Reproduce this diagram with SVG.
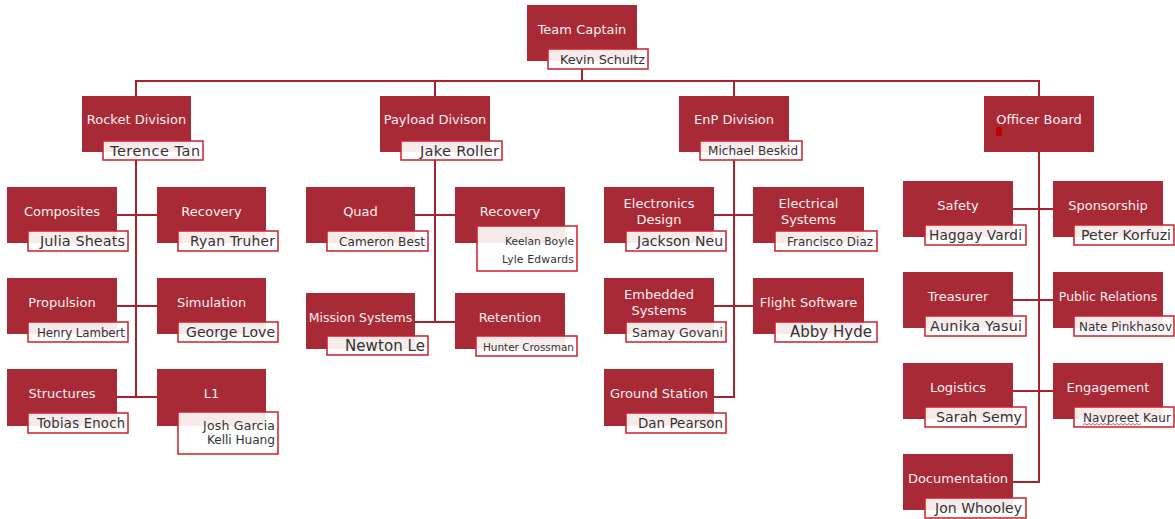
<svg xmlns="http://www.w3.org/2000/svg" width="1175" height="519" viewBox="0 0 1175 519">
<style>
.box{fill:#a92a37}
.nm{fill:#fff;fill-opacity:.9;stroke:#cc1f2a;stroke-width:1.5}
.lbl{font-family:"DejaVu Sans","Liberation Sans",sans-serif;font-size:13px;fill:#fbeff0;text-anchor:middle}
.pn{font-family:"DejaVu Sans","Liberation Sans",sans-serif;font-size:13px;fill:#333;text-anchor:end}
.ln{stroke:#a8222b;stroke-width:2;fill:none}
</style>
<rect width="1175" height="519" fill="#fff"/>
<g id="connectors" class="ln">
<path d="M136 96V81H1039V96M435 81V96M734 81V96M582 69V81"/>
<path d="M136 152V397M117 215H157M117 306H157M117 397H157"/>
<path d="M435 152V322M415 215H455M415 322H455"/>
<path d="M734 152V397H714M714 215H753M714 306H753"/>
<path d="M1039 152V482H1013M1013 209H1053M1013 300H1053M1013 391H1053"/>
</g>
<g id="captain"><rect class="box" x="527" y="5" width="110" height="56"/><text class="lbl" x="582" y="34">Team Captain</text><rect class="nm" x="548" y="49" width="100" height="20"/><text class="pn" x="645" y="64" style="font-size:12.8px" textLength="85">Kevin Schultz</text></g>
<g id="rocket"><rect class="box" x="82" y="96" width="109" height="56"/><text class="lbl" x="136.5" y="124">Rocket Division</text><rect class="nm" x="103" y="141" width="100" height="19"/><text class="pn" x="200" y="156" style="font-size:14.4px" textLength="90">Terence Tan</text></g>
<g id="payload"><rect class="box" x="380" y="96" width="110" height="56"/><text class="lbl" x="435" y="124">Payload Divison</text><rect class="nm" x="401" y="141" width="101" height="19"/><text class="pn" x="499" y="156" style="font-size:14.6px" textLength="79">Jake Roller</text></g>
<g id="enp"><rect class="box" x="679" y="96" width="110" height="56"/><text class="lbl" x="734" y="124">EnP Division</text><rect class="nm" x="700" y="141" width="102" height="19"/><text class="pn" x="798" y="155" style="font-size:12px" textLength="90">Michael Beskid</text></g>
<g id="officer"><rect class="box" x="984" y="96" width="110" height="56"/><text class="lbl" x="1039" y="124">Officer Board</text><rect x="996" y="127" width="6" height="9" fill="#c00000"/></g>
<g id="composites"><rect class="box" x="7" y="187" width="110" height="56"/><text class="lbl" x="62" y="216">Composites</text><rect class="nm" x="28" y="231" width="100" height="20"/><text class="pn" x="125" y="246" style="font-size:14.4px" textLength="85">Julia Sheats</text></g>
<g id="recovery-r"><rect class="box" x="157" y="187" width="109" height="56"/><text class="lbl" x="211.5" y="216">Recovery</text><rect class="nm" x="178" y="231" width="100" height="20"/><text class="pn" x="275" y="246" style="font-size:13.8px" textLength="85">Ryan Truher</text></g>
<g id="propulsion"><rect class="box" x="7" y="278" width="110" height="56"/><text class="lbl" x="62" y="307">Propulsion</text><rect class="nm" x="28" y="322" width="100" height="20"/><text class="pn" x="125" y="337" style="font-size:11.8px" textLength="88">Henry Lambert</text></g>
<g id="simulation"><rect class="box" x="157" y="278" width="109" height="56"/><text class="lbl" x="211.5" y="307">Simulation</text><rect class="nm" x="178" y="322" width="100" height="20"/><text class="pn" x="275" y="337" style="font-size:14px" textLength="89">George Love</text></g>
<g id="structures"><rect class="box" x="7" y="369" width="110" height="57"/><text class="lbl" x="62" y="398">Structures</text><rect class="nm" x="28" y="413" width="100" height="20"/><text class="pn" x="125" y="428" style="font-size:13.2px" textLength="88">Tobias Enoch</text></g>
<g id="l1"><rect class="box" x="157" y="369" width="109" height="57"/><text class="lbl" x="211.5" y="398">L1</text><rect class="nm" x="178" y="412" width="100" height="42"/><text class="pn" x="275" y="430" style="font-size:12.5px" textLength="72">Josh Garcia</text><text class="pn" x="275" y="444" style="font-size:12.2px" textLength="68">Kelli Huang</text></g>
<g id="quad"><rect class="box" x="306" y="187" width="109" height="56"/><text class="lbl" x="360.5" y="216">Quad</text><rect class="nm" x="327" y="231" width="101" height="20"/><text class="pn" x="425" y="246" style="font-size:12.1px" textLength="86">Cameron Best</text></g>
<g id="recovery-p"><rect class="box" x="455" y="187" width="110" height="56"/><text class="lbl" x="510" y="216">Recovery</text><rect class="nm" x="477" y="226" width="100" height="45"/><text class="pn" x="574" y="245" style="font-size:10.7px" textLength="69">Keelan Boyle</text><text class="pn" x="574" y="263" style="font-size:10.8px" textLength="72">Lyle Edwards</text></g>
<g id="mission"><rect class="box" x="306" y="293" width="109" height="56"/><text class="lbl" x="360.5" y="322" style="font-size:12.5px">Mission Systems</text><rect class="nm" x="327" y="336" width="101" height="19"/><text class="pn" x="425" y="351" style="font-size:15px" textLength="80">Newton Le</text></g>
<g id="retention"><rect class="box" x="455" y="293" width="110" height="56"/><text class="lbl" x="510" y="322">Retention</text><rect class="nm" x="476" y="336" width="101" height="20"/><text class="pn" x="574" y="351" style="font-size:10.5px" textLength="91">Hunter Crossman</text></g>
<g id="electronics"><rect class="box" x="604" y="187" width="110" height="56"/><text class="lbl" x="659" y="208">Electronics</text><text class="lbl" x="659" y="224">Design</text><rect class="nm" x="626" y="231" width="100" height="20"/><text class="pn" x="723" y="246" style="font-size:14px" textLength="86">Jackson Neu</text></g>
<g id="electrical"><rect class="box" x="753" y="187" width="111" height="56"/><text class="lbl" x="808.5" y="208">Electrical</text><text class="lbl" x="808.5" y="224">Systems</text><rect class="nm" x="775" y="231" width="102" height="20"/><text class="pn" x="873" y="246" style="font-size:11.9px" textLength="86">Francisco Diaz</text></g>
<g id="embedded"><rect class="box" x="604" y="278" width="110" height="56"/><text class="lbl" x="659" y="299">Embedded</text><text class="lbl" x="659" y="315">Systems</text><rect class="nm" x="626" y="322" width="100" height="20"/><text class="pn" x="723" y="337" style="font-size:12.5px" textLength="91">Samay Govani</text></g>
<g id="flight"><rect class="box" x="753" y="278" width="111" height="56"/><text class="lbl" x="808.5" y="307">Flight Software</text><rect class="nm" x="775" y="322" width="102" height="20"/><text class="pn" x="872" y="337" style="font-size:15px" textLength="82">Abby Hyde</text></g>
<g id="ground"><rect class="box" x="604" y="369" width="110" height="57"/><text class="lbl" x="659" y="398">Ground Station</text><rect class="nm" x="626" y="413" width="100" height="20"/><text class="pn" x="723" y="428" style="font-size:13.4px" textLength="85">Dan Pearson</text></g>
<g id="safety"><rect class="box" x="903" y="181" width="110" height="56"/><text class="lbl" x="958" y="210">Safety</text><rect class="nm" x="925" y="225" width="101" height="20"/><text class="pn" x="1022" y="240" style="font-size:13.7px" textLength="93">Haggay Vardi</text></g>
<g id="sponsorship"><rect class="box" x="1053" y="181" width="110" height="56"/><text class="lbl" x="1108" y="210">Sponsorship</text><rect class="nm" x="1074" y="225" width="100" height="20"/><text class="pn" x="1171" y="240" style="font-size:14px" textLength="90">Peter Korfuzi</text></g>
<g id="treasurer"><rect class="box" x="903" y="272" width="110" height="56"/><text class="lbl" x="958" y="301">Treasurer</text><rect class="nm" x="925" y="316" width="101" height="20"/><text class="pn" x="1022" y="331" style="font-size:14.4px" textLength="92">Aunika Yasui</text></g>
<g id="pr"><rect class="box" x="1053" y="272" width="110" height="56"/><text class="lbl" x="1108" y="301" style="font-size:12.5px">Public Relations</text><rect class="nm" x="1074" y="316" width="100" height="20"/><text class="pn" x="1172" y="331" style="font-size:12px" textLength="93">Nate Pinkhasov</text></g>
<g id="logistics"><rect class="box" x="903" y="363" width="110" height="56"/><text class="lbl" x="958" y="392">Logistics</text><rect class="nm" x="925" y="407" width="101" height="20"/><text class="pn" x="1022" y="422" style="font-size:14.2px" textLength="86">Sarah Semy</text></g>
<g id="engagement"><rect class="box" x="1053" y="363" width="110" height="56"/><text class="lbl" x="1108" y="392">Engagement</text><rect class="nm" x="1074" y="407" width="100" height="20"/><text class="pn" x="1171" y="422" style="font-size:12.1px" textLength="88">Navpreet Kaur</text><path d="M1083 425l2-1.5l2 1.5l2-1.5l2 1.5l2-1.5l2 1.5l2-1.5l2 1.5l2-1.5l2 1.5l2-1.5l2 1.5l2-1.5l2 1.5l2-1.5l2 1.5l2-1.5l2 1.5l2-1.5l2 1.5l2-1.5l2 1.5l2-1.5l2 1.5l2-1.5l2 1.5l2-1.5l2 1.5l2-1.5" fill="none" stroke="#e0303a" stroke-width=".8"/></g>
<g id="documentation"><rect class="box" x="903" y="454" width="110" height="56"/><text class="lbl" x="958" y="483">Documentation</text><rect class="nm" x="925" y="498" width="101" height="20"/><text class="pn" x="1022" y="513" style="font-size:14px" textLength="87">Jon Whooley</text></g>
</svg>
